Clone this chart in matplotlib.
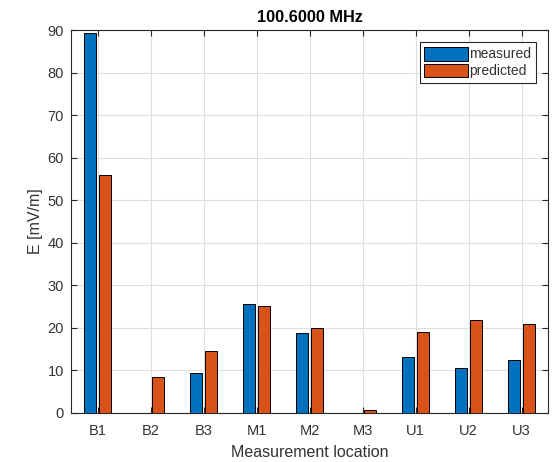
import numpy as np
import matplotlib
matplotlib.use("Agg")
import matplotlib.pyplot as plt

plt.rcParams['font.family'] = ['Liberation Sans', 'DejaVu Sans']

locations = ["B1", "B2", "B3", "M1", "M2", "M3", "U1", "U2", "U3"]
measured = [89.2, 0.0, 9.2, 25.6, 18.7, 0.0, 13.1, 10.6, 12.4]
predicted = [56.0, 8.4, 14.5, 25.0, 20.0, 0.7, 19.0, 21.7, 20.8]
yticks = [0, 10, 20, 30, 40, 50, 60, 70, 80, 90]

axis_col = "#262626"
text_col = "#333333"
fig = plt.figure(figsize=(5.53, 4.62), dpi=100)
ax = fig.add_axes([0.1284, 0.107, 0.8626, 0.828])

x = np.arange(1, len(locations) + 1)
ax.bar(x - 0.137, measured, width=0.225, color="#0072BD", edgecolor="black",
       linewidth=0.7, label="measured", zorder=3)
ax.bar(x + 0.137, predicted, width=0.225, color="#D95319", edgecolor="black",
       linewidth=0.7, label="predicted", zorder=3)

ax.set_xlim(0.5, 9.5)
ax.set_ylim(0, 90)
ax.set_xticks(x)
ax.set_xticklabels(locations)
ax.set_yticks(yticks)
ax.grid(True, color="#dedede", linewidth=0.8, zorder=0)
ax.set_axisbelow(True)
ax.tick_params(direction="in", top=True, right=True, length=4, width=0.8,
               colors=axis_col, labelcolor=text_col, labelsize=10.5)
ax.tick_params(axis="x", pad=8)
ax.tick_params(axis="y", pad=5)
for sp in ax.spines.values():
    sp.set_color(axis_col)
    sp.set_linewidth(0.8)

ax.set_xlabel("Measurement location", fontsize=11.5, color=text_col, labelpad=5)
ax.set_ylabel("E [mV/m]", fontsize=11.5, color=text_col, labelpad=3.5)
ax.set_title("100.6000 MHz", fontsize=11.7, fontweight="bold", pad=6)

leg = ax.legend(loc="upper right", bbox_to_anchor=(0.975, 0.968), fontsize=10,
                fancybox=False, framealpha=1, edgecolor=axis_col,
                handlelength=3.15, handleheight=1.15, handletextpad=0.1,
                borderpad=0.33, labelspacing=0.15, borderaxespad=0)
leg.get_frame().set_linewidth(0.8)
for t in leg.get_texts():
    t.set_color(text_col)

fig.savefig("out.png", dpi=100)
